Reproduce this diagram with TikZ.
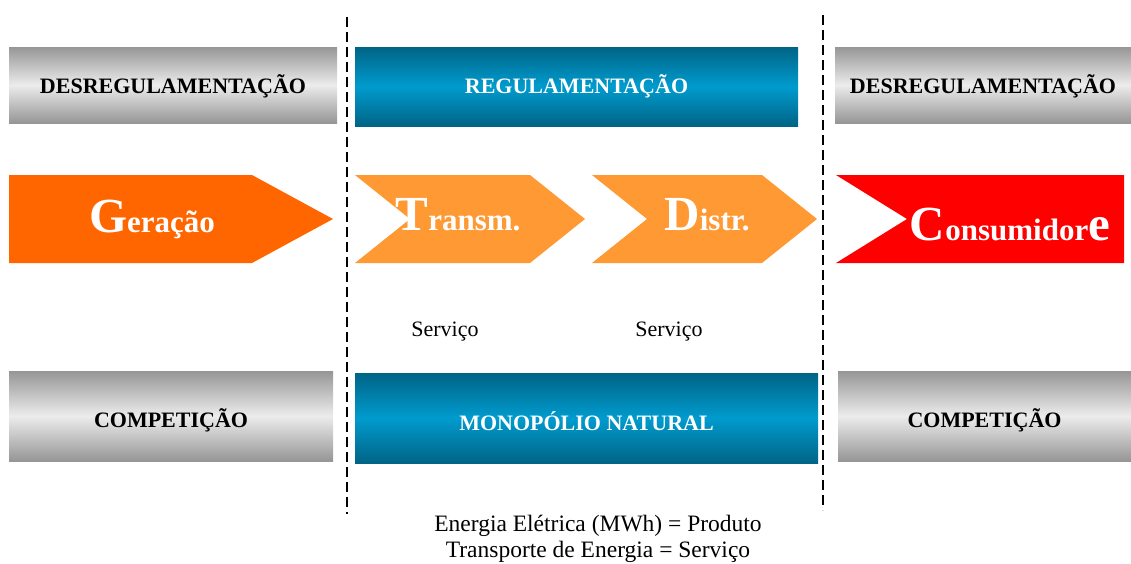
\documentclass[tikz,border=0pt]{standalone}
\usepackage{fontspec}
\setmainfont{Liberation Serif}
\usepackage{tikz}
\usepackage{xcolor}
\usetikzlibrary{positioning}
\definecolor{mkgrayedge}{RGB}{150,150,150}
\definecolor{mkgraymid}{RGB}{236,236,236}
\definecolor{mkblueedge}{RGB}{0,100,134}
\definecolor{mkbluemid}{RGB}{0,155,206}
\definecolor{mkorange}{RGB}{255,102,0}
\definecolor{mklightorange}{RGB}{255,153,51}
\definecolor{mkred}{RGB}{255,0,0}
\newcommand{\stagecap}{\fontsize{49}{50}\selectfont}
\newcommand{\stagerest}{\fontsize{31}{32}\selectfont}
\tikzset{
  mkgray/.style={top color=mkgrayedge, bottom color=mkgrayedge, middle color=mkgraymid, inner sep=0pt, text depth=0pt, font=\fontsize{22}{24}\selectfont\bfseries},
  mkblue/.style={top color=mkblueedge, bottom color=mkblueedge, middle color=mkbluemid, text=white, inner sep=0pt, text depth=0pt, font=\fontsize{22}{24}\selectfont\bfseries},
  mkstage/.style={text=white, inner sep=0pt, anchor=base, font=\bfseries},
  mknote/.style={inner sep=0pt, anchor=base, font=\fontsize{22}{24}\selectfont},
  mksep/.style={line width=2pt, dash pattern=on 10pt off 5pt}
}

\begin{document}
\begin{tikzpicture}[x=1pt, y=-1pt]
  \useasboundingbox (0,0) rectangle (1131,563);
  % separators
  \draw[mksep] (347,17) -- (347,514);
  \draw[mksep] (823,15) -- (823,510);
  % top row
  \node[mkgray, minimum width=328pt, minimum height=76pt, text height=16pt] (desregA) at (173,85) {DESREGULAMENTAÇÃO};
  \node[mkblue, minimum width=443pt, minimum height=79pt, text height=13pt] (regul) at (576.5,86.5) {REGULAMENTAÇÃO};
  \node[mkgray, minimum width=296pt, minimum height=76pt, text height=16pt] (desregB) at (983,85) {DESREGULAMENTAÇÃO};
  % chain of stages
  \fill[mkorange] (9,175) -- (252,175) -- (333,219) -- (252,263) -- (9,263) -- cycle;
  \fill[mklightorange] (355,175) -- (530,175) -- (585,219) -- (530,263) -- (355,263) -- (410,219) -- cycle;
  \fill[mklightorange] (592,175) -- (762,175) -- (817,219) -- (762,263) -- (592,263) -- (647,219) -- cycle;
  \fill[mkred] (836,175) -- (1124,175) -- (1124,263) -- (836,263) -- (907,219) -- cycle;
  \node[mkstage] (gera) at (152,232) {\stagecap G\stagerest eração};
  \node[mkstage] (transm) at (458,230) {\stagecap T\stagerest ransm.};
  \node[mkstage] (distr) at (707,230) {\stagecap D\stagerest istr.};
  \node[mkstage] (consum) at (1010,240) {\stagecap C\stagerest onsumidor\stagecap e};
  \node[mknote] (servA) at (445,336) {Serviço};
  \node[mknote] (servB) at (669,336) {Serviço};
  % bottom row
  \node[mkgray, minimum width=324pt, minimum height=90pt, text height=22pt] (compA) at (171,416) {COMPETIÇÃO};
  \node[mkblue, minimum width=463pt, minimum height=90pt, text height=24pt] (monop) at (586.5,418) {MONOPÓLIO NATURAL};
  \node[mkgray, minimum width=293pt, minimum height=90pt, text height=22pt] (compB) at (984.5,416) {COMPETIÇÃO};
  \node[inner sep=0pt, anchor=north, align=center, font=\fontsize{23.5}{26}\selectfont] (legend) at (598,515) {Energia Elétrica (MWh) = Produto\\Transporte de Energia = Serviço};
\end{tikzpicture}
\end{document}
